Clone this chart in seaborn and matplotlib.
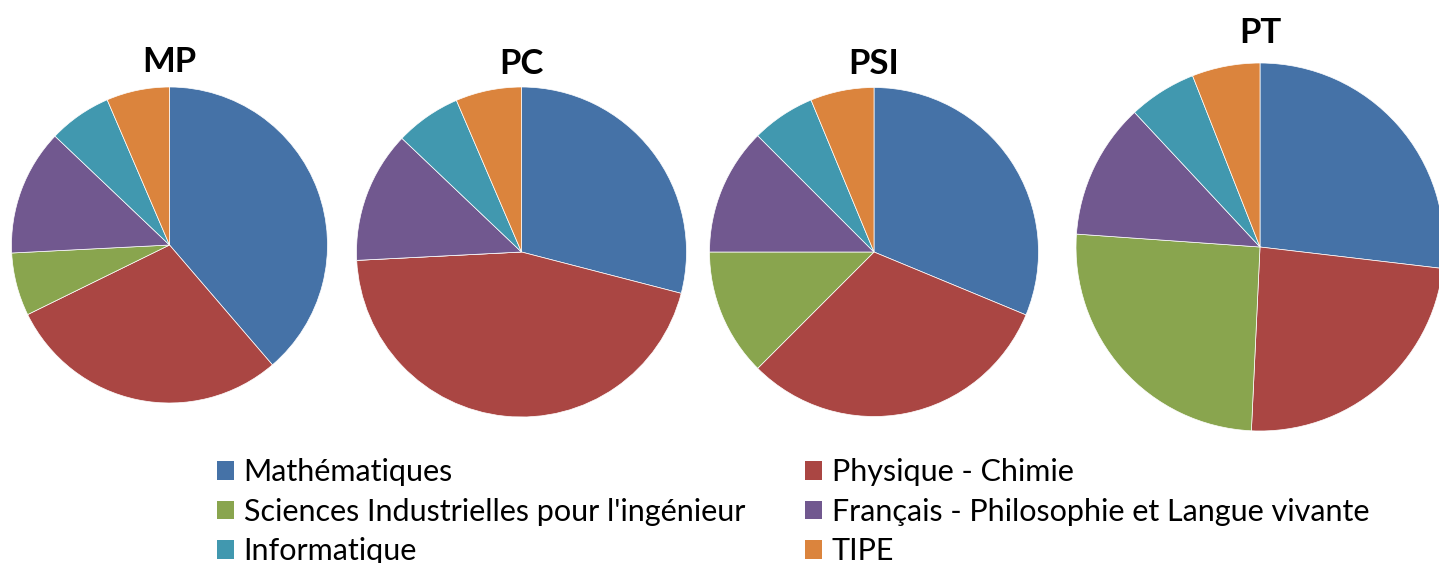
import matplotlib
matplotlib.use('Agg')
import matplotlib.pyplot as plt
import seaborn as sns

# coefficients per filière
subjects = ['Mathématiques', 'Physique - Chimie', "Sciences Industrielles pour l'ingénieur",
            'Français - Philosophie et Langue vivante', 'Informatique', 'TIPE']
filieres = ['MP', 'PC', 'PSI', 'PT']
mp = [12, 9, 2, 4, 2, 2]
pc = [9, 14, 0, 4, 2, 2]
psi = [10, 10, 4, 4, 2, 2]
pt = [9, 8, 8.5, 4, 2, 2]

colors = ['#4572A7', '#AA4643', '#89A54E', '#71588F', '#4198AF', '#DB843D']

sns.set_theme(style='white')
sns.set_palette(sns.color_palette(colors))
plt.rcParams['font.family'] = ['Lato', 'DejaVu Sans']

W, H = 1439, 563
fig = plt.figure(figsize=(W / 100, H / 100), dpi=100)

# pie centre x, centre y, radius (pixels) and title baseline y
layout = [(169.5, 245, 158, 72), (521.5, 252, 165, 74), (874, 252, 164.5, 74), (1260, 247, 184, 43)]

wedges = None
for name, vals, (cx, cy, r, ty) in zip(filieres, [mp, pc, psi, pt], layout):
    ax = fig.add_axes([(cx - r) / W, (H - cy - r) / H, 2 * r / W, 2 * r / H])
    w, _ = ax.pie(vals, colors=colors, startangle=90, counterclock=False,
                  wedgeprops={'edgecolor': 'white', 'linewidth': 0.5})
    ax.set_xlim(-1, 1)
    ax.set_ylim(-1, 1)
    ax.axis('off')
    if wedges is None:
        wedges = w
    fig.text(cx / W, (H - ty) / H, name, ha='center', va='baseline',
             fontsize=25, fontweight='bold', color='black')

order = [0, 2, 4, 1, 3, 5]
leg = fig.legend([wedges[i] for i in order], [subjects[i] for i in order],
                 ncol=2, frameon=False, fontsize=22,
                 loc='upper left', bbox_to_anchor=(205 / W, 1 - 446 / H),
                 handlelength=0.56, handleheight=0.56, handletextpad=0.3,
                 labelspacing=0.38, columnspacing=1.98, borderaxespad=0)
for h in leg.legend_handles:
    h.set_edgecolor('none')
for t in leg.get_texts():
    t.set_color('black')

fig.savefig('out.png', dpi=100)
